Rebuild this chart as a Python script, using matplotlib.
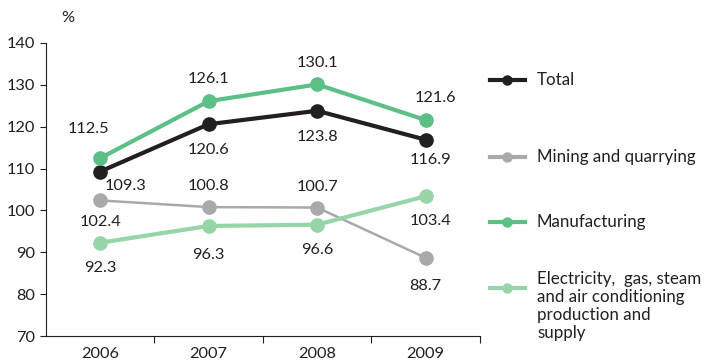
import matplotlib.pyplot as plt
from matplotlib.lines import Line2D

plt.rcParams["font.family"] = ["Lato", "DejaVu Sans"]
plt.rcParams["font.size"] = 11.8

years = ["2006", "2007", "2008", "2009"]
total = [109.3, 120.6, 123.8, 116.9]
mining = [102.4, 100.8, 100.7, 88.7]
manufacturing = [112.5, 126.1, 130.1, 121.6]
electricity = [92.3, 96.3, 96.6, 103.4]

series_names = [
    "Total",
    "Mining and quarrying",
    "Manufacturing",
    "Electricity,  gas, steam\nand air conditioning\nproduction and\nsupply",
]

TEXT = "#231f20"
colors = ["#231f20", "#a7a9ac", "#5cbf86", "#96d5a8"]
widths = [3.0, 1.8, 3.0, 3.0]

# label offsets in pixels (dx, dy), one per point
offsets = [
    [(25, -14), (0, -26), (0, -26), (5, -20)],
    [(0, -22), (0, 21), (0, 21), (0, -28)],
    [(-12, 29), (0, 22), (0, 21), (10, 22)],
    [(0, -25), (0, -29), (0, -25), (5, -25)],
]

fig = plt.figure(figsize=(7.1, 3.61), dpi=100)
ax = fig.add_axes([0.0648, 0.069, 0.611, 0.812])

x = list(range(len(years)))
all_series = [total, mining, manufacturing, electricity]
# draw order: thin grey line sits under the others
for idx in [1, 3, 0, 2]:
    vals = all_series[idx]
    ax.plot(x, vals, color=colors[idx], lw=widths[idx], marker="o",
            markersize=9.5, solid_capstyle="round", zorder=3)
    for xi, v, (dx, dy) in zip(x, vals, offsets[idx]):
        ax.annotate(f"{v:.1f}", (xi, v), xytext=(dx, dy),
                    textcoords="offset pixels", ha="center", va="center",
                    color=TEXT, fontsize=11.8, zorder=5)

ax.set_xlim(-0.5, 3.5)
ax.set_ylim(70, 140)
ax.set_yticks(range(70, 141, 10))
ax.set_xticks(x)
ax.set_xticklabels(years)
ax.set_xticks([0.5, 1.5, 2.5, 3.5], minor=True)
ax.tick_params(axis="x", which="major", length=0, pad=8, colors=TEXT)
ax.tick_params(axis="x", which="minor", length=5, width=0.8, color=TEXT)
ax.tick_params(axis="y", length=4, width=0.8, pad=4, colors=TEXT)
for side in ["top", "right"]:
    ax.spines[side].set_visible(False)
for side in ["left", "bottom"]:
    ax.spines[side].set_linewidth(0.8)
    ax.spines[side].set_color(TEXT)

fig.text(68 / 710, 1 - 18 / 361, "%", ha="center", va="center", color=TEXT)

# legend keys drawn by hand on the right
key_rows = [80, 157, 222, 288]
text_rows = [80, 157, 222, 306]
for name, color, ky, ty in zip(series_names, colors, key_rows, text_rows):
    fy = 1 - ky / 361
    fig.add_artist(Line2D([490 / 710, 525 / 710], [fy, fy], color=color,
                          lw=3.0, transform=fig.transFigure))
    fig.add_artist(Line2D([507 / 710], [fy], color=color, marker="o",
                          markersize=6.5, transform=fig.transFigure))
    fig.text(537 / 710, 1 - ty / 361, name, ha="left", va="center",
             color=TEXT, fontsize=12.2, linespacing=1.15)

fig.savefig("out.png", dpi=100)
